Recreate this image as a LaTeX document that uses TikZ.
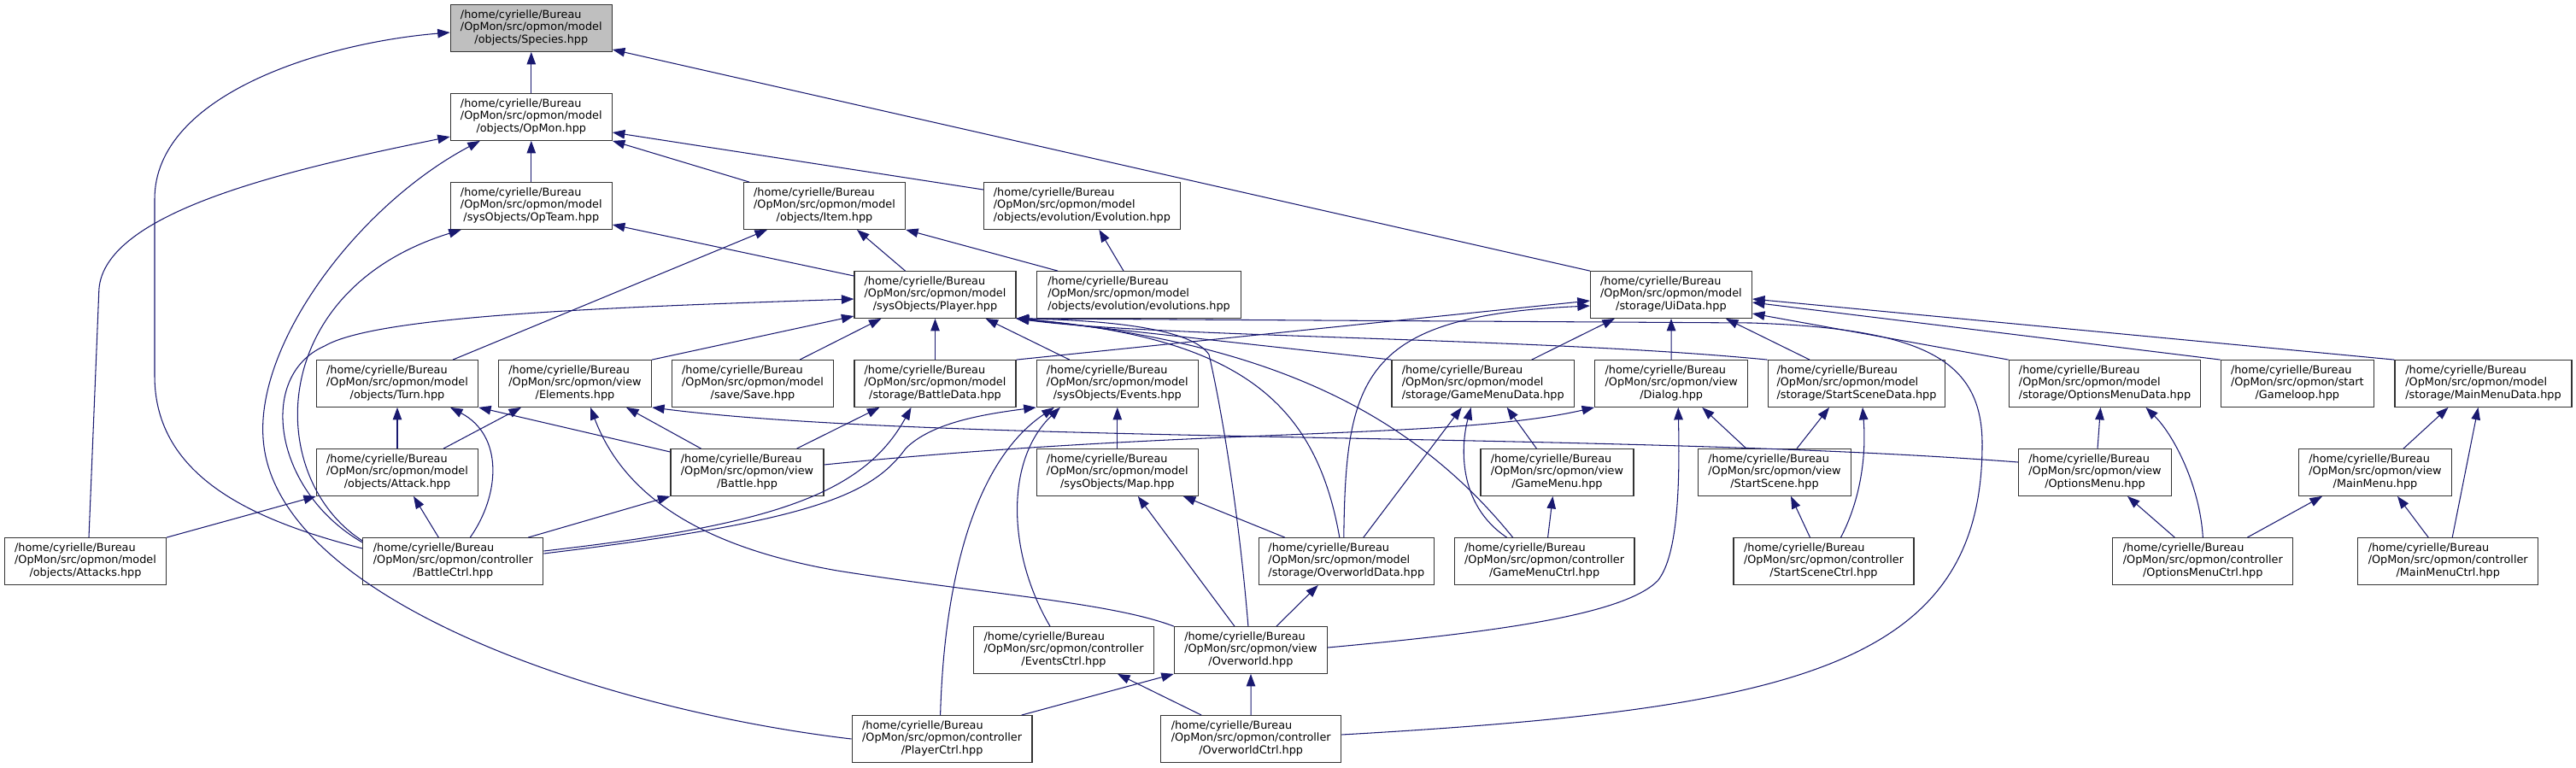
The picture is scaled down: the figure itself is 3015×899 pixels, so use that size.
\documentclass[tikz,border=0pt]{standalone}
\usepackage{fontspec}
\setmainfont{DejaVu Sans}
\usepackage{tikz}
\usetikzlibrary{arrows.meta,calc}
\definecolor{midnight}{HTML}{191970}
\newcommand{\doxfile}[2]{\begin{tabular}{@{}l@{}}/home/cyrielle/Bureau\\/OpMon/src/opmon/#1\\\multicolumn{1}{@{}c@{}}{#2}\end{tabular}}

\begin{document}
\begin{tikzpicture}[x=0.02cm, y=-0.02cm,
    file/.style={draw=black!80, fill=white, line width=0.7pt, inner sep=0pt, minimum height=1.092cm, font=\fontsize{7.3}{8.4}\selectfont},
    modelbox/.style={file, minimum width=3.78cm},
    viewbox/.style={file, minimum width=3.58cm},
    ctrlbox/.style={file, minimum width=4.22cm},
    incl/.style={draw=midnight, line width=0.6pt, -{Triangle[length=2.9mm, width=2.1mm]}}]
    \useasboundingbox (0,0) rectangle (3015,899);
    % Row 1
    \node[modelbox, fill=black!25] (species) at (621.8,33) {\doxfile{model}{/objects/Species.hpp}};
    % Row 2
    \node[modelbox] (opmon) at (621.8,137) {\doxfile{model}{/objects/OpMon.hpp}};
    % Row 3
    \node[modelbox] (opteam) at (621.8,241) {\doxfile{model}{/sysObjects/OpTeam.hpp}};
    \node[modelbox] (item) at (965,241) {\doxfile{model}{/objects/Item.hpp}};
    \node[file, minimum width=4.6cm] (evolution) at (1266.4,241) {\doxfile{model}{/objects/evolution/Evolution.hpp}};
    % Row 4
    \node[modelbox] (player) at (1094.5,345) {\doxfile{model}{/sysObjects/Player.hpp}};
    \node[file, minimum width=4.77cm] (evolutions) at (1333,345) {\doxfile{model}{/objects/evolution/evolutions.hpp}};
    \node[modelbox] (uidata) at (1955.9,345) {\doxfile{model}{/storage/UiData.hpp}};
    % Row 5
    \node[modelbox] (turn) at (465,449) {\doxfile{model}{/objects/Turn.hpp}};
    \node[viewbox] (elements) at (673,449) {\doxfile{view}{/Elements.hpp}};
    \node[modelbox] (save) at (881,449) {\doxfile{model}{/save/Save.hpp}};
    \node[modelbox] (battledata) at (1094.5,449) {\doxfile{model}{/storage/BattleData.hpp}};
    \node[modelbox] (events) at (1307.8,449) {\doxfile{model}{/sysObjects/Events.hpp}};
    \node[file, minimum width=4.27cm] (gamemenudata) at (1735.7,449) {\doxfile{model}{/storage/GameMenuData.hpp}};
    \node[viewbox] (dialog) at (1956.2,449) {\doxfile{view}{/Dialog.hpp}};
    \node[file, minimum width=4.15cm] (startscenedata) at (2173,449) {\doxfile{model}{/storage/StartSceneData.hpp}};
    \node[file, minimum width=4.49cm] (optionsmenudata) at (2463.5,449) {\doxfile{model}{/storage/OptionsMenuData.hpp}};
    \node[viewbox] (gameloop) at (2688.8,449) {\doxfile{start}{/Gameloop.hpp}};
    \node[file, minimum width=4.14cm] (mainmenudata) at (2906.5,449) {\doxfile{model}{/storage/MainMenuData.hpp}};
    % Row 6
    \node[modelbox] (attack) at (465,553) {\doxfile{model}{/objects/Attack.hpp}};
    \node[viewbox] (battle) at (874.5,553) {\doxfile{view}{/Battle.hpp}};
    \node[modelbox] (map) at (1307.8,553) {\doxfile{model}{/sysObjects/Map.hpp}};
    \node[viewbox] (gamemenu) at (1822.4,553) {\doxfile{view}{/GameMenu.hpp}};
    \node[viewbox] (startscene) at (2077,553) {\doxfile{view}{/StartScene.hpp}};
    \node[viewbox] (optionsmenu) at (2452,553) {\doxfile{view}{/OptionsMenu.hpp}};
    \node[viewbox] (mainmenu) at (2780,553) {\doxfile{view}{/MainMenu.hpp}};
    % Row 7
    \node[modelbox] (attacks) at (100,657) {\doxfile{model}{/objects/Attacks.hpp}};
    \node[ctrlbox] (battlectrl) at (530.3,657) {\doxfile{controller}{/BattleCtrl.hpp}};
    \node[file, minimum width=4.1cm] (overworlddata) at (1575.8,657) {\doxfile{model}{/storage/OverworldData.hpp}};
    \node[ctrlbox] (gamemenuctrl) at (1807.6,657) {\doxfile{controller}{/GameMenuCtrl.hpp}};
    \node[ctrlbox] (startscenectrl) at (2134.5,657) {\doxfile{controller}{/StartSceneCtrl.hpp}};
    \node[ctrlbox] (optionsmenuctrl) at (2578.3,657) {\doxfile{controller}{/OptionsMenuCtrl.hpp}};
    \node[ctrlbox] (mainmenuctrl) at (2865.2,657) {\doxfile{controller}{/MainMenuCtrl.hpp}};
    % Row 8
    \node[ctrlbox] (eventsctrl) at (1245,761) {\doxfile{controller}{/EventsCtrl.hpp}};
    \node[viewbox] (overworld) at (1463.9,761) {\doxfile{view}{/Overworld.hpp}};
    % Row 9
    \node[ctrlbox] (playerctrl) at (1102.6,865) {\doxfile{controller}{/PlayerCtrl.hpp}};
    \node[ctrlbox] (overworldctrl) at (1464.2,865) {\doxfile{controller}{/OverworldCtrl.hpp}};

    % Species
    \draw[incl] (opmon) -- (species);
    \draw[incl] ($(battlectrl.west)+(0,-15)$) .. controls (300,610) and (181,560) .. (181,440) -- (181,233) .. controls (181,110) and (380,50) .. ($(species.west)+(0,5)$);
    \draw[incl] (uidata.north west) -- ($(species.east)+(0,25)$);
    % OpMon
    \draw[incl] (opteam) -- (opmon);
    \draw[incl] ($(item.north)+(-88,0)$) -- (opmon.south east);
    \draw[incl] ($(evolution.west)+(0,-19)$) -- ($(opmon.east)+(0,18)$);
    \draw[incl] ($(attacks.north)+(4,0)$) -- (115.7,343) .. controls (115.7,250) and (330,200) .. ($(opmon.west)+(0,23)$);
    \draw[incl] (playerctrl.west) .. controls (700,830) and (320,700) .. (308,513) .. controls (300,400) and (420,240) .. ($(opmon.south)+(-60,0)$);
    % OpTeam, Item, Evolution
    \draw[incl] ($(player.west)+(0,-22)$) -- ($(opteam.east)+(0,22)$);
    \draw[incl] ($(battlectrl.west)+(0,-24)$) .. controls (310,560) and (310,340) .. ($(opteam.south)+(-82,0)$);
    \draw[incl] ($(player.north)+(-35,0)$) -- ($(item.south)+(38,0)$);
    \draw[incl] ($(evolutions.north)+(-95,0)$) -- (item.south east);
    \draw[incl] ($(turn.north)+(65,0)$) -- ($(item.south)+(-67,0)$);
    \draw[incl] ($(evolutions.north)+(-18,0)$) -- ($(evolution.south)+(20,0)$);
    % Player
    \draw[incl] ($(battlectrl.west)+(0,-22)$) .. controls (320,575) and (300,440) .. (380,405) .. controls (440,370) and (700,360) .. ($(player.west)+(0,5)$);
    \draw[incl] (elements.north east) -- ($(player.west)+(0,25)$);
    \draw[incl] ($(save.north)+(55,0)$) -- ($(player.south)+(-63,0)$);
    \draw[incl] (battledata) -- (player);
    \draw[incl] ($(events.north)+(-56,0)$) -- ($(player.south)+(59,0)$);
    \draw[incl] (gamemenudata.north west) -- (player.south east);
    \draw[incl] (startscenedata.north west) .. controls (1800,395) and (1350,395) .. (player.south east);
    \draw[incl] ($(overworld.north)+(-3,0)$) .. controls (1450,600) and (1430,480) .. (1415,415) .. controls (1395,385) and (1300,375) .. (player.south east);
    \draw[incl] ($(overworlddata.north)+(-8,0)$) .. controls (1540,470) and (1450,395) .. (player.south east);
    \draw[incl] ($(gamemenuctrl.north)+(-37,0)$) .. controls (1650,480) and (1480,400) .. (player.south east);
    \draw[incl] ($(overworldctrl.east)+(0,-5)$) .. controls (2100,830) and (2320,780) .. (2320,520) .. controls (2320,420) and (2250,385) .. (2050,378) -- (player.south east);
    % UiData
    \draw[incl] (battledata.north east) -- ($(uidata.west)+(0,7)$);
    \draw[incl] ($(overworlddata.north)+(-3,0)$) .. controls (1575,440) and (1595,370) .. ($(uidata.west)+(0,13)$);
    \draw[incl] ($(gamemenudata.north)+(57,0)$) -- ($(uidata.south)+(-66,0)$);
    \draw[incl] (dialog) -- (uidata);
    \draw[incl] ($(startscenedata.north)+(-55,0)$) -- ($(uidata.south)+(64,0)$);
    \draw[incl] (optionsmenudata.north west) -- ($(uidata.east)+(0,22)$);
    \draw[incl] (gameloop.north west) -- ($(uidata.east)+(0,9)$);
    \draw[incl] (mainmenudata.north west) -- ($(uidata.east)+(0,5)$);
    % Turn, Elements
    \draw[incl] (attack) -- (turn);
    \draw[incl] ($(battlectrl.north)+(20,0)$) .. controls (585,580) and (590,510) .. ($(turn.south)+(62,0)$);
    \draw[incl] ($(battle.west)+(0,-24)$) -- (turn.south east);
    \draw[incl] ($(attack.north)+(54,0)$) -- ($(elements.south)+(-63,0)$);
    \draw[incl] ($(battle.north)+(-54,0)$) -- ($(elements.south)+(60,0)$);
    \draw[incl] (overworld.north west) .. controls (1300,705) and (1150,695) .. (980,668) .. controls (820,640) and (730,580) .. ($(elements.south)+(18,0)$);
    \draw[incl] ($(optionsmenu.west)+(0,-12)$) .. controls (1900,505) and (1100,520) .. (elements.south east);
    % BattleData, Events
    \draw[incl] ($(battle.north)+(58,0)$) -- ($(battledata.south)+(-65,0)$);
    \draw[incl] ($(battlectrl.east)+(0,-12)$) .. controls (900,615) and (1010,580) .. ($(battledata.south)+(-28,0)$);
    \draw[incl] (map) -- (events);
    \draw[incl] ($(battlectrl.east)+(0,-9)$) .. controls (950,610) and (1020,580) .. (1060,525) .. controls (1090,495) and (1150,485) .. (events.south west);
    \draw[incl] ($(eventsctrl.north)+(-16,0)$) .. controls (1180,650) and (1175,540) .. ($(events.south)+(-67,0)$);
    \draw[incl] ($(playerctrl.north)+(-2,0)$) .. controls (1105,680) and (1140,540) .. ($(events.south)+(-74,0)$);
    % GameMenuData, Dialog
    \draw[incl] ($(overworlddata.north)+(20,0)$) -- ($(gamemenudata.south)+(-25,0)$);
    \draw[incl] ($(gamemenuctrl.north)+(-44,0)$) .. controls (1705,590) and (1710,520) .. ($(gamemenudata.south)+(-14,0)$);
    \draw[incl] ($(gamemenu.north)+(-24,0)$) -- ($(gamemenudata.south)+(28,0)$);
    \draw[incl] ($(battle.east)+(0,-9)$) .. controls (1400,500) and (1700,515) .. (dialog.south west);
    \draw[incl] ($(overworld.east)+(0,-3)$) .. controls (1750,740) and (1900,720) .. (1940,680) .. controls (1965,650) and (1966,560) .. ($(dialog.south)+(8,0)$);
    \draw[incl] ($(startscene.north)+(-33,0)$) -- ($(dialog.south)+(36,0)$);
    % StartSceneData, OptionsMenuData, MainMenuData
    \draw[incl] ($(startscene.north)+(26,0)$) -- ($(startscenedata.south)+(-32,0)$);
    \draw[incl] ($(startscenectrl.north)+(20,0)$) .. controls (2175,590) and (2185,540) .. ($(startscenedata.south)+(7,0)$);
    \draw[incl] ($(optionsmenu.north)+(3,0)$) -- ($(optionsmenudata.south)+(-5,0)$);
    \draw[incl] (optionsmenuctrl.north) .. controls (2575,570) and (2545,510) .. ($(optionsmenudata.south)+(48,0)$);
    \draw[incl] ($(mainmenu.north)+(33,0)$) -- ($(mainmenudata.south)+(-41,0)$);
    \draw[incl] ($(mainmenuctrl.north)+(5,0)$) -- ($(mainmenudata.south)+(-6,0)$);
    % Row 6 heads
    \draw[incl] (attacks.north east) -- (attack.south west);
    \draw[incl] ($(battlectrl.north)+(-17,0)$) -- ($(attack.south)+(19,0)$);
    \draw[incl] ($(battlectrl.north)+(88,0)$) -- (battle.south west);
    \draw[incl] ($(overworld.north)+(-19,0)$) -- ($(map.south)+(24,0)$);
    \draw[incl] ($(overworlddata.north)+(-72,0)$) -- ($(map.south)+(77,0)$);
    \draw[incl] ($(gamemenuctrl.north)+(4,0)$) -- ($(gamemenu.south)+(-5,0)$);
    \draw[incl] ($(startscenectrl.north)+(-16,0)$) -- ($(startscene.south)+(19,0)$);
    \draw[incl] ($(optionsmenuctrl.north)+(-33,0)$) -- ($(optionsmenu.south)+(38,0)$);
    \draw[incl] ($(optionsmenuctrl.north)+(52,0)$) -- ($(mainmenu.south)+(-62,0)$);
    \draw[incl] ($(mainmenuctrl.north)+(-23,0)$) -- ($(mainmenu.south)+(26,0)$);
    % Rows 7 and 8 heads
    \draw[incl] ($(overworld.north)+(30,0)$) -- ($(overworlddata.south)+(-33,0)$);
    \draw[incl] ($(playerctrl.north)+(93,0)$) -- (overworld.south west);
    \draw[incl] (overworldctrl) -- (overworld);
    \draw[incl] ($(overworldctrl.north)+(-58,0)$) -- ($(eventsctrl.south)+(63,0)$);
\end{tikzpicture}
\end{document}
